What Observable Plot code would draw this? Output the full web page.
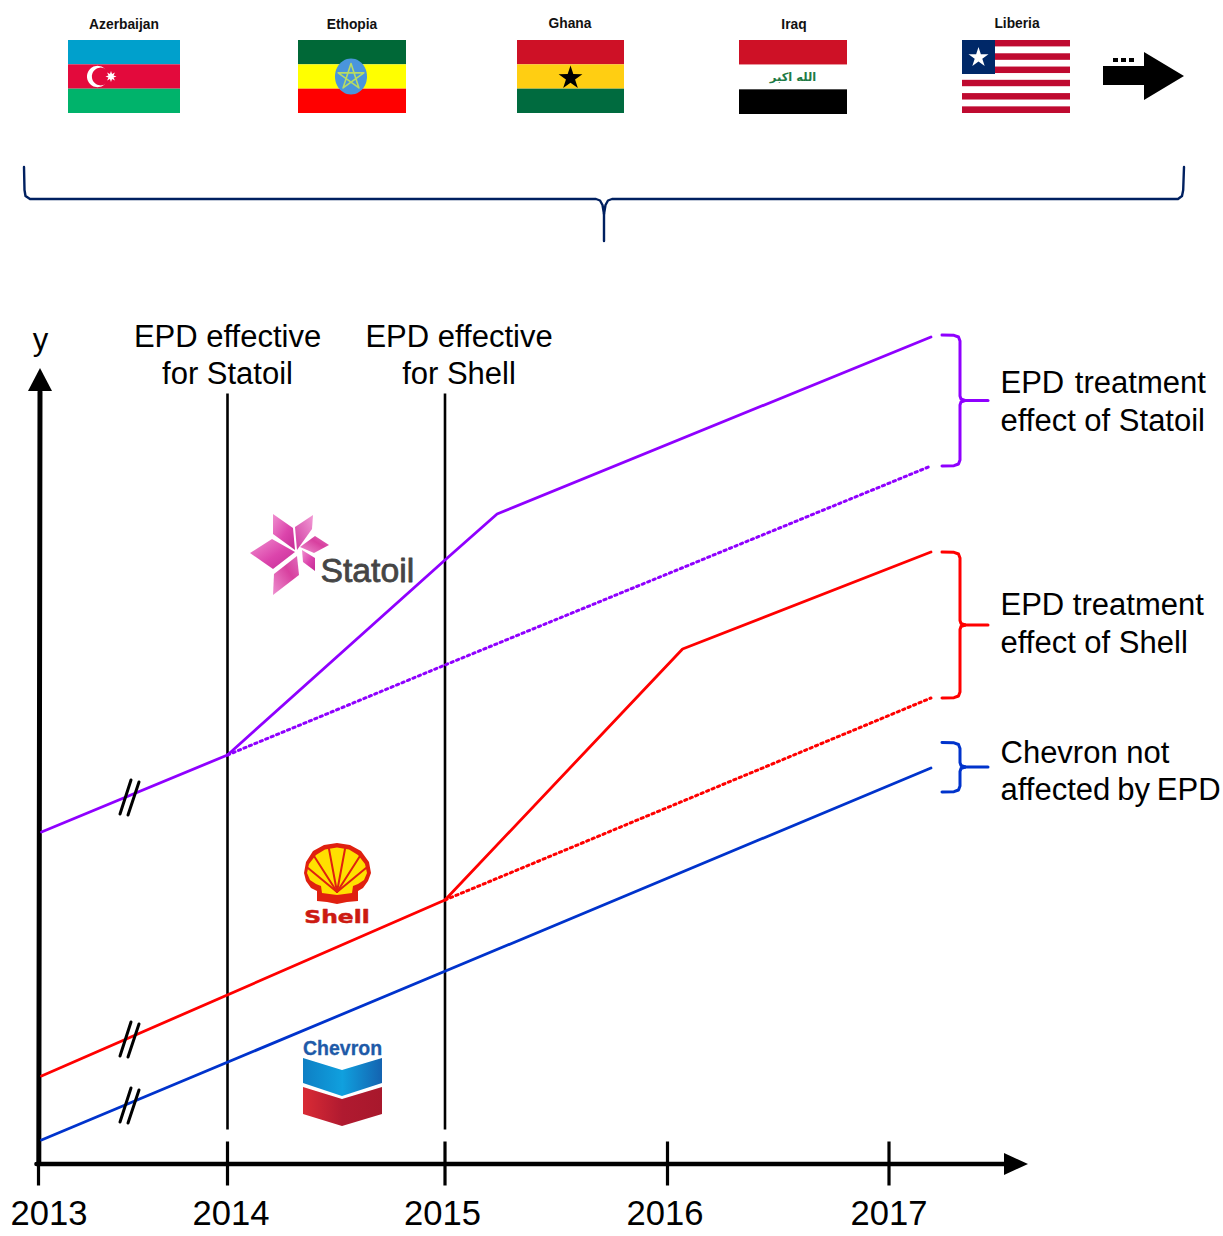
<!DOCTYPE html>
<html><head><meta charset="utf-8">
<script src="https://cdn.jsdelivr.net/npm/d3@7"></script>
<script src="https://cdn.jsdelivr.net/npm/@observablehq/plot@0.6"></script>
<style>
html,body{margin:0;padding:0;background:#fff}
svg{display:block;max-width:none}
.tight text{word-spacing:-1.7px}
.wide text{word-spacing:2px}
.shell{transform-box:fill-box;transform-origin:center;transform:scaleX(1.3)}
</style></head><body><div id="chart"></div>
<script>
// ---- chart values ----
const years = [2013, 2014, 2015, 2016, 2017];
const countries = ["Azerbaijan", "Ethopia", "Ghana", "Iraq", "Liberia"];
const statoilTime = [2013.016, 2014, 2015, 2015.234, 2017.189];
const statoilActual = [832, 755, 560, 514, 337];
const statoilCfTime = [2014, 2015, 2017.189];
const statoilCounterfactual = [755, 665, 466];
const shellTime = [2013.016, 2015, 2016.068, 2017.189];
const shellActual = [1076, 900, 649, 552];
const shellCfTime = [2015, 2017.189];
const shellCounterfactual = [900, 698];
const chevronTime = [2013.016, 2017.189];
const chevronActual = [1140, 768];
const effectiveYears = [2014, 2015];
const effectiveLabels = [["EPD effective", "for Statoil"], ["EPD effective", "for Shell"]];
const sideLabels = [["EPD treatment", "effect of Statoil"], ["EPD treatment", "effect of Shell"], ["Chevron not", "affected by EPD"]];
const breakLevels = [798, 1040, 1106];

// ---- layout ----
const W = 1223, H = 1236;
const xDomain = [2012, 2013, 2014, 2015, 2016, 2017, 2019];
const xRange = [-150.5, 38, 227, 444.5, 667, 888.5, 1332.5];
const X = d3.scaleLinear().domain(xRange.map(d => d + 0.5)).range(xDomain);
const SANS = "Liberation Sans, Arial, sans-serif";
const PURPLE = "#8F00FF", RED = "#FF0000", BLUE = "#0033CC", NAVY = "#002060";

const toRow = (xs, ys) => xs.map((x, i) => ({x, y: ys[i]}));
const poly = (pts, fill) => Plot.line(pts, {x: d => X(d[0]), y: d => d[1], curve: "linear-closed", fill, stroke: "none"});
const path = (pts, stroke, strokeWidth = 2.5, o = {}) => Plot.line(pts, {x: d => X(d[0]), y: d => d[1], stroke, strokeWidth, strokeLinejoin: "round", ...o});
const star = (cx, cy, R, r, n = 5, rot = -90) => d3.range(2 * n).map(i => {
  const a = (rot + i * 180 / n) * Math.PI / 180, q = i % 2 ? r : R;
  return [cx + q * Math.cos(a), cy + q * Math.sin(a)];
});
const ellipse = (cx, cy, rx, ry) => d3.range(48).map(i => {
  const a = i / 48 * 2 * Math.PI;
  return [cx + rx * Math.cos(a), cy + ry * Math.sin(a)];
});
const label = (text, x, base, size, o = {}) => Plot.text([text], {
  x: () => X(x), y: () => base - 0.32 * size, text: d => d, fontSize: size, fill: "#000",
  textAnchor: "middle", lineAnchor: "middle", ...o
});
const box = (x1, x2, y1, y2, fill) => Plot.rect([0], {x1: () => X(x1 + 0.5), x2: () => X(x2 + 0.5), y1: y1 + 0.5, y2: y2 + 0.5, fill});
const stripes = (x1, x2, y1, y2, colors) => {
  const h = (y2 - y1) / colors.length;
  return Plot.rect(colors, {x1: () => X(x1 + 0.5), x2: () => X(x2 + 0.5),
    y1: (d, i) => y1 + 0.5 + i * h, y2: (d, i) => y1 + 0.5 + (i + 1) * h, fill: d => d});
};

const defs = () => {
  const g = d3.create("svg:defs");
  g.html(`
  <linearGradient id="pA" x1="0" y1="0" x2="1" y2="1"><stop offset="0" stop-color="#F090D0"/><stop offset=".55" stop-color="#DC45AC"/><stop offset="1" stop-color="#C42C95"/></linearGradient>
  <linearGradient id="pB" x1="1" y1="0" x2="0" y2="1"><stop offset="0" stop-color="#F29AD5"/><stop offset="1" stop-color="#CF3AA0"/></linearGradient>
  <linearGradient id="pC" x1="0" y1="1" x2="1" y2="0"><stop offset="0" stop-color="#EE8FD0"/><stop offset=".6" stop-color="#D8409F"/><stop offset="1" stop-color="#E06CBB"/></linearGradient>
  <linearGradient id="cB" x1="0" y1="0" x2="1" y2="0"><stop offset="0" stop-color="#0E7FC4"/><stop offset=".5" stop-color="#10A0DE"/><stop offset="1" stop-color="#1463B0"/></linearGradient>
  <linearGradient id="cR" x1="0" y1="0" x2="1" y2="0"><stop offset="0" stop-color="#D92B35"/><stop offset=".5" stop-color="#B01A30"/><stop offset="1" stop-color="#A8182C"/></linearGradient>`);
  return g.node();
};

// flags
const flagRow = [
  [68, 180, 40, 113, ["#00A0CC", "#E30A3C", "#00B36B"]],
  [298, 406, 40, 113, ["#006837", "#FFFF00", "#FF0000"]],
  [517, 624, 40, 113, ["#CE1126", "#FFCE12", "#006B3F"]],
  [739, 847, 40, 114, ["#CE1126", "#FFFFFF", "#000000"]],
  [962, 1070, 40, 113, ["#BF0A30","#fff","#BF0A30","#fff","#BF0A30","#fff","#BF0A30","#fff","#BF0A30","#fff","#BF0A30"]]
];
const flagLabelX = [124, 352, 570, 794, 1017], flagLabelBase = [28.5, 28.5, 27.5, 28.5, 27.5];
const pent = star(351, 77, 13.5, 13.5, 5).filter((d, i) => i % 2 === 0);

// brackets
const bracketPts = [
 [[24,167],[24.5,190],[25.5,196],[30,199],[596,199],[600,200.5],[602.5,205],[604,214],[604,241]],
 [[604,214],[605.5,205],[608,200.5],[612,199],[1178,199],[1182,196],[1183.2,190],[1184,167]]
];
const sideBrackets = [
 [PURPLE, 335, 400.5, 466], [RED, 552, 625, 698], [BLUE, 742.5, 767, 792]
];
const bracketMarks = sideBrackets.flatMap(([c, t, m, b]) => [
  path([[942,t],[954,t+.3],[958.5,t+2],[960,t+6],[960,m-4.5],[961,m-1.5],[965,m]], c, 3),
  path([[942,b],[954,b-.3],[958.5,b-2],[960,b-6],[960,m+4.5],[961,m+1.5],[965,m]], c, 3),
  path([[963,m],[988,m]], c, 3)
]);

const ribTips = [[308,868],[314,856],[329,849],[345,849],[360,856],[366,868]];

const marks = [
  defs,
  // flags & captions
  ...flagRow.map(f => stripes(...f)),
  ...countries.map((c, i) => label(c, flagLabelX[i], flagLabelBase[i], 13.8, {fontWeight: "bold", fill: "#111"})),
  // Azerbaijan emblem
  poly(ellipse(97.5, 76.5, 10.5, 10.7), "#fff"), poly(ellipse(100.8, 76.5, 8.9, 8.9), "#E30A3C"),
  poly(star(111, 76.5, 5.5, 2.8, 8), "#fff"),
  // Ethiopia emblem
  poly(ellipse(351, 76.5, 16, 18), "#4A95DC"),
  path([pent[0], pent[2], pent[4], pent[1], pent[3], pent[0]], "#B9DC62", 1.6),
  // Ghana star
  poly(star(570.5, 78, 12.5, 4.8), "#000"),
  // Iraq script
  Plot.text(["الله اكبر"], {x: () => X(793), y: 77, text: d => d, fontSize: 11.5, fontWeight: "bold", fill: "#1E7A45", fontFamily: "DejaVu Sans"}),
  // Liberia canton
  box(962, 995, 40, 74, "#002868"),
  poly(star(978.5, 57.5, 10.5, 4), "#fff"),
  // black continuation arrow
  poly([[1103,66],[1144,66],[1144,52],[1184,76],[1144,100],[1144,85],[1103,85]], "#000"),
  ...[1113, 1121, 1129].map(x => box(x, x + 5, 58, 62, "#000")),
  // top bracket
  ...bracketPts.map(p => path(p, NAVY, 2.4)),

  // treatment date rules
  Plot.ruleX(effectiveYears, {x: d => d, y1: 394, y2: 1130, stroke: "#000", strokeWidth: 2.6}),
  // axes
  path([[40,392],[38.8,1164]], "#000", 5),
  poly([[40,368],[52,391],[28,391]], "#000"),
  path([[36.5,1164],[1006,1164]], "#000", 4.6),
  poly([[1028,1164],[1004,1153],[1004,1175]], "#000"),
  Plot.ruleX(years, {x: d => d, y1: d => d === 2013 ? 1164 : 1142, y2: 1186, stroke: "#000", strokeWidth: 3.2}),
  ...years.map((y, i) => Plot.text([y], {x: d => d, dx: [10.5, 3.5, -2.5, -2.5, 0][i], y: 1224.5 - 0.32 * 34.6, text: d => String(d), fontSize: 34.6, fill: "#000", lineAnchor: "middle"})),
  label("y", 40.5, 350, 31),

  // series
  Plot.line(toRow(statoilCfTime, statoilCounterfactual), {x: "x", y: "y", stroke: PURPLE, strokeWidth: 3, strokeDasharray: "2.3,3.6"}),
  Plot.line(toRow(shellCfTime, shellCounterfactual), {x: "x", y: "y", stroke: RED, strokeWidth: 3, strokeDasharray: "2.3,3.6"}),
  Plot.line(toRow(statoilTime, statoilActual), {x: "x", y: "y", stroke: PURPLE, strokeWidth: 2.8}),
  Plot.line(toRow(shellTime, shellActual), {x: "x", y: "y", stroke: RED, strokeWidth: 2.8}),
  Plot.line(toRow(chevronTime, chevronActual), {x: "x", y: "y", stroke: BLUE, strokeWidth: 2.8}),

  // axis-break slashes
  ...breakLevels.flatMap(y => [
    path([[120, y + 16],[131, y - 18]], "#000", 3),
    path([[128, y + 17],[139, y - 16]], "#000", 3)
  ]),

  // labels for treatment dates
  ...effectiveLabels.flatMap((ls, i) => ls.map((t, j) =>
    label(t, [227.5, 459][i], [346.5, 383.5][j], 31))),

  // side brackets & labels
  ...bracketMarks,
  label(sideLabels[0][0], 1000.5, 393, 31, {textAnchor: "start", className: "wide"}),
  label(sideLabels[0][1], 1000.5, 430.5, 31, {textAnchor: "start"}),
  label(sideLabels[1][0], 1000.5, 615, 31, {textAnchor: "start"}),
  label(sideLabels[1][1], 1000.5, 653, 31, {textAnchor: "start"}),
  label(sideLabels[2][0], 1000.5, 763, 31, {textAnchor: "start"}),
  label(sideLabels[2][1], 1000.5, 800, 31, {textAnchor: "start", className: "tight"}),

  // Statoil logo
  poly([[273,514],[293,528],[295,550],[273,534]], "url(#pA)"),
  poly([[313,515],[312,529],[297,550],[295,527]], "url(#pB)"),
  poly([[329,545],[314,553],[300,547],[315,536]], "url(#pC)"),
  poly([[315,571],[303,562],[302,550],[315,558]], "url(#pA)"),
  poly([[273,595],[274,574],[297,556],[299,575]], "url(#pC)"),
  poly([[250,553],[272,539],[295,552],[273,569]], "url(#pA)"),
  label("Statoil", 320.5, 582, 33.7, {textAnchor: "start", fill: "#454545", stroke: "#454545", strokeWidth: 0.8}),

  // Shell logo
  poly([[337,843],[350,845],[361,851],[369,862],[371,873],[368,881],[363,888],[358,891],[358,901],[347,902],[337,904],[327,902],[317,901],[317,891],[311,888],[306,881],[304,873],[306,862],[313,851],[324,845]], "#E0200F"),
  poly([[337,847.5],[349,849.5],[358,855],[365,864],[367,873],[364,880],[358,884],[353,886],[352,893],[337,895],[322,893],[321,886],[316,884],[310,880],[307,873],[309,864],[316,855],[325,849.5]], "#FFE000"),
  ...ribTips.map(t => path([[337, 892], t], "#E0200F", 2)),
  label("Shell", 337.5, 923.5, 18, {fontWeight: "bold", fill: "#CC1A12", stroke: "#CC1A12", strokeWidth: 0.5, fontFamily: "DejaVu Sans", className: "shell"}),

  // Chevron logo
  label("Chevron", 342.5, 1054.5, 19.5, {fontWeight: "bold", fill: "#1E5AA8", stroke: "#1E5AA8", strokeWidth: 0.3}),
  poly([[303,1058],[342,1070],[382,1058],[382,1083],[342,1096],[303,1083]], "url(#cB)"),
  poly([[303,1087],[342,1099],[382,1087],[382,1114],[342,1126],[303,1114]], "url(#cR)")
];

const chart = Plot.plot({
  width: W, height: H, margin: 0,
  style: {fontFamily: SANS, background: "#fff", overflow: "visible"},
  x: {type: "linear", domain: xDomain, range: xRange, axis: null},
  y: {type: "linear", domain: [0, H], range: [-0.5, H - 0.5], axis: null},
  color: {type: "identity"},
  marks
});
document.getElementById("chart").append(chart);
</script></body></html>
